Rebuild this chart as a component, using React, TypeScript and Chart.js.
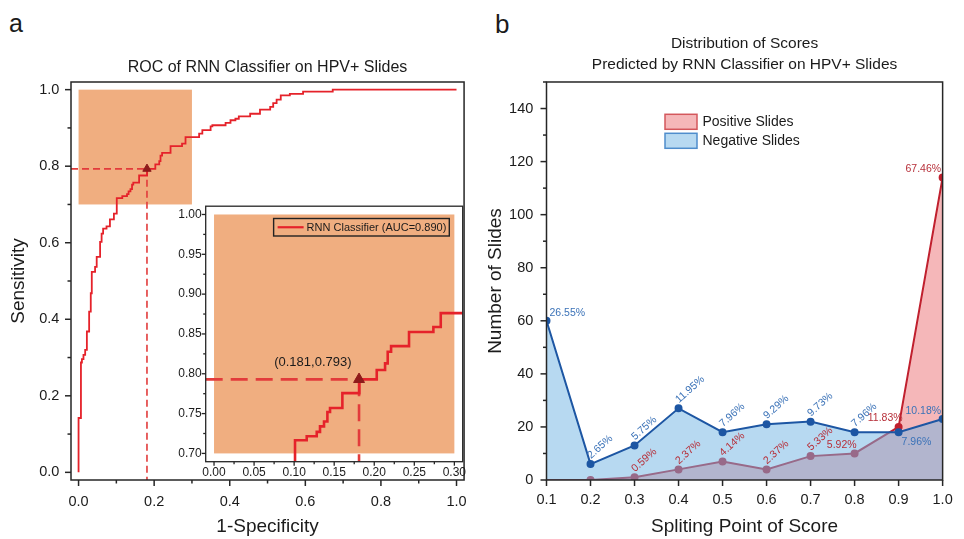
import React, { useEffect, useRef } from 'react';
import { Chart, registerables } from 'chart.js';

Chart.register(...registerables);

const FONT = "'Liberation Sans', Arial, Helvetica, sans-serif";
const TEXT = '#1b1b1b';

// ---------------- Panel a : ROC data ----------------
const rocFpr = [0, 0, 0.0063, 0.0089, 0.013, 0.0175, 0.022, 0.028, 0.0323, 0.035, 0.0437, 0.048, 0.057, 0.061, 0.065, 0.074, 0.083, 0.0935,
  0.1011, 0.1157, 0.1282, 0.1323, 0.1373, 0.1415, 0.1448, 0.1602, 0.1814, 0.2031, 0.2135, 0.2168, 0.221, 0.2434, 0.2738, 0.283,
  0.319, 0.3275, 0.3494, 0.354, 0.389, 0.402, 0.415, 0.424, 0.454, 0.48, 0.507, 0.515, 0.524, 0.535, 0.559, 0.594, 0.6725, 1.0];
const rocTpr = [0, 0.142, 0.287, 0.296, 0.307, 0.32, 0.368, 0.42, 0.468, 0.524, 0.537, 0.563, 0.602, 0.624, 0.637, 0.643, 0.661, 0.676,
  0.7166, 0.7216, 0.727, 0.734, 0.74, 0.752, 0.757, 0.7757, 0.793, 0.8047, 0.813, 0.8276, 0.8347, 0.8525, 0.8588, 0.8762,
  0.885, 0.894, 0.904, 0.907, 0.913, 0.92, 0.924, 0.93, 0.937, 0.948, 0.955, 0.965, 0.974, 0.985, 0.989, 0.995, 1.0, 1.0];
const opFpr = 0.181;
const opTpr = 0.793;
const opLabel = '(0.181,0.793)';
const rocLabel = 'RNN Classifier (AUC=0.890)';
const rocTitle = 'ROC of RNN Classifier on HPV+ Slides';
const zoomFpr = [0, 0.3];
const zoomTpr = [0.7, 1.0];

const mainTicks = [0, 0.2, 0.4, 0.6, 0.8, 1.0];
const mainTickLabels = ['0.0', '0.2', '0.4', '0.6', '0.8', '1.0'];
const insetXTicks = [0, 0.05, 0.1, 0.15, 0.2, 0.25, 0.3];
const insetXLabels = ['0.00', '0.05', '0.10', '0.15', '0.20', '0.25', '0.30'];
const insetYTicks = [0.7, 0.75, 0.8, 0.85, 0.9, 0.95, 1.0];
const insetYLabels = ['0.70', '0.75', '0.80', '0.85', '0.90', '0.95', '1.00'];

// ---------------- Panel b : score distribution ----------------
const scoreCats = [0.1, 0.2, 0.3, 0.4, 0.5, 0.6, 0.7, 0.8, 0.9, 1.0];
const scoreLabels = ['0.1', '0.2', '0.3', '0.4', '0.5', '0.6', '0.7', '0.8', '0.9', '1.0'];
const negCounts = [60, 6, 13, 27, 18, 21, 22, 18, 18, 23];
const posCounts = [0, 0, 1, 4, 7, 4, 9, 10, 20, 114];
const negPct = ['26.55%', '2.65%', '5.75%', '11.95%', '7.96%', '9.29%', '9.73%', '7.96%', '7.96%', '10.18%'];
const posPct = ['', '', '0.59%', '2.37%', '4.14%', '2.37%', '5.33%', '5.92%', '11.83%', '67.46%'];
const countTicks = [0, 20, 40, 60, 80, 100, 120, 140];
const countTickLabels = ['0', '20', '40', '60', '80', '100', '120', '140'];
const distTitle = ['Distribution of Scores', 'Predicted by RNN Classifier on HPV+ Slides'];

// label placement (style only)
const negPlace = ['ru', 'rot', 'rot', 'rot', 'rot', 'rot', 'rot', 'rot', 'rd', 'lu'];
const posPlace = ['none', 'none', 'rot', 'rot', 'rot', 'rot', 'rot', 'lu2', 'lu4', 'lu'];
const posPointRadius = [0, 3, 3, 3, 3, 3, 3, 3, 3, 3];

// colours
const ROC_RED = '#E5222A';
const DASH_RED = '#E23B3B';
const OP_COLOR = '#8E1B1B';
const ORANGE = '#F0AE80';
const FRAME = '#262626';
const NEG_LINE = '#1D56A3';
const NEG_FILL = 'rgba(111,179,227,0.5)';
const POS_LINE = '#C0202E';
const POS_FILL = 'rgba(235,112,115,0.5)';
const NEG_TEXT = '#3C73B8';
const POS_TEXT = '#B7303A';

function stepPath(xs: number[], ys: number[]) {
  const pts = [{ x: xs[0], y: ys[0] }];
  for (let i = 1; i < xs.length; i++) {
    pts.push({ x: xs[i], y: ys[i - 1] });
    pts.push({ x: xs[i], y: ys[i] });
  }
  return pts;
}

const setTicks = (vals: number[]) => (s: any) => {
  s.ticks = vals.map((v) => ({ value: v }));
};

const frameTicksPlugin = {
  id: 'frameTicks',
  afterDatasetsDraw(chart: any, _a: any, o: any) {
    const { ctx, chartArea: a, scales } = chart;
    ctx.save();
    ctx.strokeStyle = o.color;
    ctx.lineWidth = o.width;
    ctx.strokeRect(a.left, a.top, a.right - a.left, a.bottom - a.top);
    const drawAxis = (scale: any, horiz: boolean, minorOn: boolean) => {
      const vals = scale.ticks.map((t: any) => t.value);
      const minors: number[] = [];
      if (minorOn && vals.length > 1) {
        const step = vals[1] - vals[0];
        for (let i = 0; i < vals.length - 1; i++) minors.push((vals[i] + vals[i + 1]) / 2);
        const before = vals[0] - step / 2;
        const after = vals[vals.length - 1] + step / 2;
        if (before >= scale.min - 1e-9) minors.push(before);
        if (after <= scale.max + 1e-9) minors.push(after);
      }
      const draw = (v: number, len: number) => {
        const p = scale.getPixelForValue(v);
        ctx.beginPath();
        if (horiz) {
          ctx.moveTo(p, a.bottom);
          ctx.lineTo(p, a.bottom + len);
        } else {
          ctx.moveTo(a.left, p);
          ctx.lineTo(a.left - len, p);
        }
        ctx.stroke();
      };
      vals.forEach((v: number) => draw(v, o.major));
      minors.forEach((v) => draw(v, o.minor));
    };
    drawAxis(scales.x, true, o.minorX);
    drawAxis(scales.y, false, o.minorY);
    ctx.restore();
  },
};

const zoomRectPlugin = {
  id: 'zoomRect',
  beforeDatasetsDraw(chart: any, _a: any, o: any) {
    const { ctx, chartArea: a, scales } = chart;
    ctx.save();
    if (o.white) {
      ctx.fillStyle = '#ffffff';
      ctx.fillRect(a.left, a.top, a.right - a.left, a.bottom - a.top);
    }
    const x0 = scales.x.getPixelForValue(zoomFpr[0]);
    const x1 = scales.x.getPixelForValue(zoomFpr[1]);
    const y0 = scales.y.getPixelForValue(zoomTpr[1]);
    const y1 = scales.y.getPixelForValue(zoomTpr[0]);
    ctx.fillStyle = ORANGE;
    ctx.fillRect(x0, y0, x1 - x0, y1 - y0);
    ctx.restore();
  },
};

const insetLegendPlugin = {
  id: 'insetLegend',
  afterDatasetsDraw(chart: any) {
    const { ctx, chartArea: a, scales } = chart;
    ctx.save();
    ctx.font = `11px ${FONT}`;
    const tw = ctx.measureText(rocLabel).width;
    const w = 4 + 26 + 3 + tw + 3;
    const h = 17.5;
    const right = a.right - 13.4;
    const left = right - w;
    const top = a.top + 12.3;
    ctx.strokeStyle = '#222';
    ctx.lineWidth = 1.4;
    ctx.strokeRect(left, top, w, h);
    ctx.strokeStyle = ROC_RED;
    ctx.lineWidth = 2.2;
    ctx.beginPath();
    ctx.moveTo(left + 4, top + h / 2);
    ctx.lineTo(left + 30, top + h / 2);
    ctx.stroke();
    ctx.fillStyle = TEXT;
    ctx.textAlign = 'left';
    ctx.textBaseline = 'middle';
    ctx.fillText(rocLabel, left + 33, top + h / 2 + 0.5);
    // operating point annotation
    const px = scales.x.getPixelForValue(opFpr);
    const py = scales.y.getPixelForValue(opTpr);
    ctx.font = `13px ${FONT}`;
    ctx.textAlign = 'right';
    ctx.fillText(opLabel, px - 7.5, py - 16.5);
    ctx.restore();
  },
};

const distLegendPlugin = {
  id: 'distLegend',
  afterDatasetsDraw(chart: any, _a: any, o: any) {
    const { ctx, chartArea: a } = chart;
    ctx.save();
    o.order.forEach((di: number, row: number) => {
      const ds = chart.data.datasets[di];
      const left = a.left + 118.5;
      const top = a.top + 32.3 + row * 19;
      ctx.fillStyle = ds.backgroundColor;
      ctx.fillRect(left, top, 32, 15);
      ctx.strokeStyle = o.borders[row];
      ctx.lineWidth = 1.5;
      ctx.strokeRect(left, top, 32, 15);
      ctx.fillStyle = TEXT;
      ctx.font = `14px ${FONT}`;
      ctx.textAlign = 'left';
      ctx.textBaseline = 'middle';
      ctx.fillText(ds.label, left + 37.5, top + 8);
    });
    ctx.restore();
  },
};

const pctLabelPlugin = {
  id: 'pctLabels',
  afterDatasetsDraw(chart: any, _a: any, o: any) {
    const { ctx } = chart;
    ctx.save();
    ctx.font = `10.5px ${FONT}`;
    o.sets.forEach((set: any) => {
      const meta = chart.getDatasetMeta(set.index);
      meta.data.forEach((pt: any, i: number) => {
        const txt = set.labels[i];
        const mode = set.place[i];
        if (!txt || mode === 'none') return;
        ctx.fillStyle = set.color;
        const { x, y } = pt;
        if (mode === 'rot') {
          ctx.save();
          ctx.translate(x + 0.5, y - 5);
          ctx.rotate((-o.angle * Math.PI) / 180);
          ctx.textAlign = 'left';
          ctx.textBaseline = 'alphabetic';
          ctx.fillText(txt, 0, 0);
          ctx.restore();
        } else {
          ctx.textBaseline = 'middle';
          if (mode === 'ru') {
            ctx.textAlign = 'left';
            ctx.fillText(txt, x + 3, y - 8);
          } else if (mode === 'rd') {
            ctx.textAlign = 'left';
            ctx.fillText(txt, x + 3, y + 10);
          } else {
            const dx = mode === 'lu2' ? 2 : mode === 'lu4' ? 4 : -1.5;
            const dy = mode === 'lu4' ? -8.5 : -8;
            ctx.textAlign = 'right';
            ctx.fillText(txt, x + dx, y + dy);
          }
        }
      });
    });
    ctx.restore();
  },
};

const tickFont = (size: number) => ({ family: FONT, size });

export default function App() {
  const aRef = useRef<HTMLCanvasElement>(null);
  const insetRef = useRef<HTMLCanvasElement>(null);
  const bRef = useRef<HTMLCanvasElement>(null);

  useEffect(() => {
    Chart.defaults.font.family = FONT;
    Chart.defaults.color = TEXT;
    const charts: Chart[] = [];
    const rocPath = stepPath(rocFpr, rocTpr);

    // ---------- main ROC ----------
    const A_MIN = -0.02;
    const A_MAX = 1.02;
    charts.push(
      new Chart(aRef.current as HTMLCanvasElement, {
        type: 'line',
        data: {
          datasets: [
            { label: 'op', data: [{ x: opFpr, y: opTpr }], showLine: false, pointStyle: 'triangle', pointRadius: 4.8, pointBackgroundColor: OP_COLOR, pointBorderColor: OP_COLOR, pointBorderWidth: 1 },
            { label: rocLabel, data: rocPath, borderColor: ROC_RED, borderWidth: 1.8, pointRadius: 0, fill: false, tension: 0 },
            { label: 'h', data: [{ x: A_MIN, y: opTpr }, { x: opFpr, y: opTpr }], borderColor: DASH_RED, borderWidth: 1.6, borderDash: [7, 4], pointRadius: 0, fill: false },
            { label: 'v', data: [{ x: opFpr, y: opTpr }, { x: opFpr, y: A_MIN }], borderColor: DASH_RED, borderWidth: 1.6, borderDash: [7, 4], pointRadius: 0, fill: false },
          ] as any,
        },
        options: {
          animation: false,
          responsive: false,
          events: [],
          layout: { padding: { left: 0, right: 12.4, top: 0, bottom: 0 } },
          plugins: {
            legend: { display: false },
            tooltip: { enabled: false },
            title: { display: true, text: rocTitle, fullSize: false, color: TEXT, font: { family: FONT, size: 16, weight: 'normal', lineHeight: 1.2 }, padding: { top: 58.4, bottom: 4.4 } },
            frameTicks: { color: FRAME, width: 1.5, major: 6, minor: 3.5, minorX: true, minorY: true },
          } as any,
          scales: {
            x: {
              type: 'linear', min: A_MIN, max: A_MAX,
              afterBuildTicks: setTicks(mainTicks),
              afterFit: (s: any) => { s.height = 59; },
              ticks: { callback: (_v: any, i: number) => mainTickLabels[i], font: tickFont(14.5), color: TEXT, padding: 13.1, maxRotation: 0, autoSkip: false },
              grid: { display: false, drawTicks: false },
              border: { display: false },
              title: { display: true, text: '1-Specificity', color: TEXT, font: { family: FONT, size: 19 }, padding: { top: 0, bottom: 0.6 } },
            },
            y: {
              type: 'linear', min: A_MIN, max: A_MAX,
              afterBuildTicks: setTicks(mainTicks),
              afterFit: (s: any) => { s.width = 71; },
              ticks: { callback: (_v: any, i: number) => mainTickLabels[i], font: tickFont(14.5), color: TEXT, padding: 11.7, autoSkip: false },
              grid: { display: false, drawTicks: false },
              border: { display: false },
              title: { display: true, text: 'Sensitivity', color: TEXT, font: { family: FONT, size: 19 }, padding: { top: 7.6, bottom: 0 } },
            },
          } as any,
        },
        plugins: [zoomRectPlugin, frameTicksPlugin] as any,
      })
    );

    // ---------- inset ----------
    const IX_MIN = -0.0104, IX_MAX = 0.3104, IY_MIN = 0.6896, IY_MAX = 1.0104;
    charts.push(
      new Chart(insetRef.current as HTMLCanvasElement, {
        type: 'line',
        data: {
          datasets: [
            { label: 'op', data: [{ x: opFpr, y: opTpr }], showLine: false, pointStyle: 'triangle', pointRadius: 6.3, pointBackgroundColor: OP_COLOR, pointBorderColor: OP_COLOR, pointBorderWidth: 1 },
            { label: rocLabel, data: rocPath, borderColor: ROC_RED, borderWidth: 2.6, pointRadius: 0, fill: false, tension: 0 },
            { label: 'h', data: [{ x: IX_MIN, y: opTpr }, { x: opFpr, y: opTpr }], borderColor: DASH_RED, borderWidth: 2.6, borderDash: [17, 8], pointRadius: 0, fill: false },
            { label: 'v', data: [{ x: opFpr, y: opTpr }, { x: opFpr, y: IY_MIN }], borderColor: DASH_RED, borderWidth: 2.6, borderDash: [17, 8], pointRadius: 0, fill: false },
          ] as any,
        },
        options: {
          animation: false,
          responsive: false,
          events: [],
          layout: { padding: { left: 0, right: 12.3, top: 10, bottom: 0 } },
          plugins: {
            legend: { display: false },
            tooltip: { enabled: false },
            zoomRect: { white: true },
            frameTicks: { color: FRAME, width: 1.3, major: 4, minor: 2.5, minorX: true, minorY: true },
          } as any,
          scales: {
            x: {
              type: 'linear', min: IX_MIN, max: IX_MAX,
              afterBuildTicks: setTicks(insetXTicks),
              afterFit: (s: any) => { s.height = 23.3; },
              ticks: { callback: (_v: any, i: number) => insetXLabels[i], font: tickFont(12), color: TEXT, padding: 3.8, maxRotation: 0, autoSkip: false },
              grid: { display: false, drawTicks: false },
              border: { display: false },
            },
            y: {
              type: 'linear', min: IY_MIN, max: IY_MAX,
              afterBuildTicks: setTicks(insetYTicks),
              afterFit: (s: any) => { s.width = 55.7; },
              ticks: { callback: (_v: any, i: number) => insetYLabels[i], font: tickFont(12), color: TEXT, padding: 4, autoSkip: false },
              grid: { display: false, drawTicks: false },
              border: { display: false },
            },
          } as any,
        },
        plugins: [zoomRectPlugin, frameTicksPlugin, insetLegendPlugin] as any,
      })
    );

    // ---------- panel b ----------
    charts.push(
      new Chart(bRef.current as HTMLCanvasElement, {
        type: 'line',
        data: {
          datasets: [
            { label: 'Negative Slides', data: scoreCats.map((x, i) => ({ x, y: negCounts[i] })), borderColor: NEG_LINE, backgroundColor: NEG_FILL, fill: 'origin', borderWidth: 2, pointRadius: 3, pointBackgroundColor: NEG_LINE, pointBorderColor: NEG_LINE, tension: 0 },
            { label: 'Positive Slides', data: scoreCats.map((x, i) => ({ x, y: posCounts[i] })), borderColor: POS_LINE, backgroundColor: POS_FILL, fill: 'origin', borderWidth: 2, pointRadius: posPointRadius, pointBackgroundColor: POS_LINE, pointBorderColor: POS_LINE, tension: 0 },
          ] as any,
        },
        options: {
          animation: false,
          responsive: false,
          events: [],
          layout: { padding: { left: 0, right: 20.5, top: 0, bottom: 0 } },
          plugins: {
            legend: { display: false },
            tooltip: { enabled: false },
            title: { display: true, text: distTitle, fullSize: false, color: TEXT, font: { family: FONT, size: 15.5, weight: 'normal', lineHeight: 1.374 }, padding: { top: 32.6, bottom: 6.8 } },
            frameTicks: { color: FRAME, width: 1.5, major: 6, minor: 3.5, minorX: false, minorY: true },
            distLegend: { order: [1, 0], borders: ['#D4575C', '#4F8DCC'] },
            pctLabels: {
              angle: 42,
              sets: [
                { index: 0, labels: negPct, place: negPlace, color: NEG_TEXT },
                { index: 1, labels: posPct, place: posPlace, color: POS_TEXT },
              ],
            },
          } as any,
          scales: {
            x: {
              type: 'linear', min: 0.1, max: 1.0,
              afterBuildTicks: setTicks(scoreCats),
              afterFit: (s: any) => { s.height = 59; },
              ticks: { callback: (_v: any, i: number) => scoreLabels[i], font: tickFont(14.5), color: TEXT, padding: 11.3, maxRotation: 0, autoSkip: false },
              grid: { display: false, drawTicks: false },
              border: { display: false },
              title: { display: true, text: 'Spliting Point of Score', color: TEXT, font: { family: FONT, size: 19 }, padding: { top: 0, bottom: 0.6 } },
            },
            y: {
              type: 'linear', min: 0, max: 150,
              afterBuildTicks: setTicks(countTicks),
              afterFit: (s: any) => { s.width = 66.5; },
              ticks: { callback: (_v: any, i: number) => countTickLabels[i], font: tickFont(14.5), color: TEXT, padding: 13.2, autoSkip: false },
              grid: { display: false, drawTicks: false },
              border: { display: false },
              title: { display: true, text: 'Number of Slides', color: TEXT, font: { family: FONT, size: 19 }, padding: { top: 4.6, bottom: 0 } },
            },
          } as any,
        },
        plugins: [frameTicksPlugin, pctLabelPlugin, distLegendPlugin] as any,
      })
    );

    return () => charts.forEach((c) => c.destroy());
  }, []);

  const abs = (l: number, t: number, w: number, h: number): React.CSSProperties => ({ position: 'absolute', left: l, top: t, width: w, height: h });

  return (
    <div style={{ position: 'fixed', left: 0, top: 0, width: 964, height: 539, background: '#ffffff', overflow: 'hidden' }}>
      <div style={{ position: 'absolute', left: 9, top: 10.5, fontFamily: FONT, fontSize: 25, lineHeight: '25px', color: TEXT }}>a</div>
      <div style={{ position: 'absolute', left: 495, top: 10.7, fontFamily: FONT, fontSize: 26, lineHeight: '26px', color: TEXT }}>b</div>
      <canvas ref={aRef} width={480} height={539} style={abs(0, 0, 480, 539)} />
      <canvas ref={insetRef} width={325} height={290} style={abs(150, 195, 325, 290)} />
      <canvas ref={bRef} width={484} height={539} style={abs(480, 0, 484, 539)} />
    </div>
  );
}
